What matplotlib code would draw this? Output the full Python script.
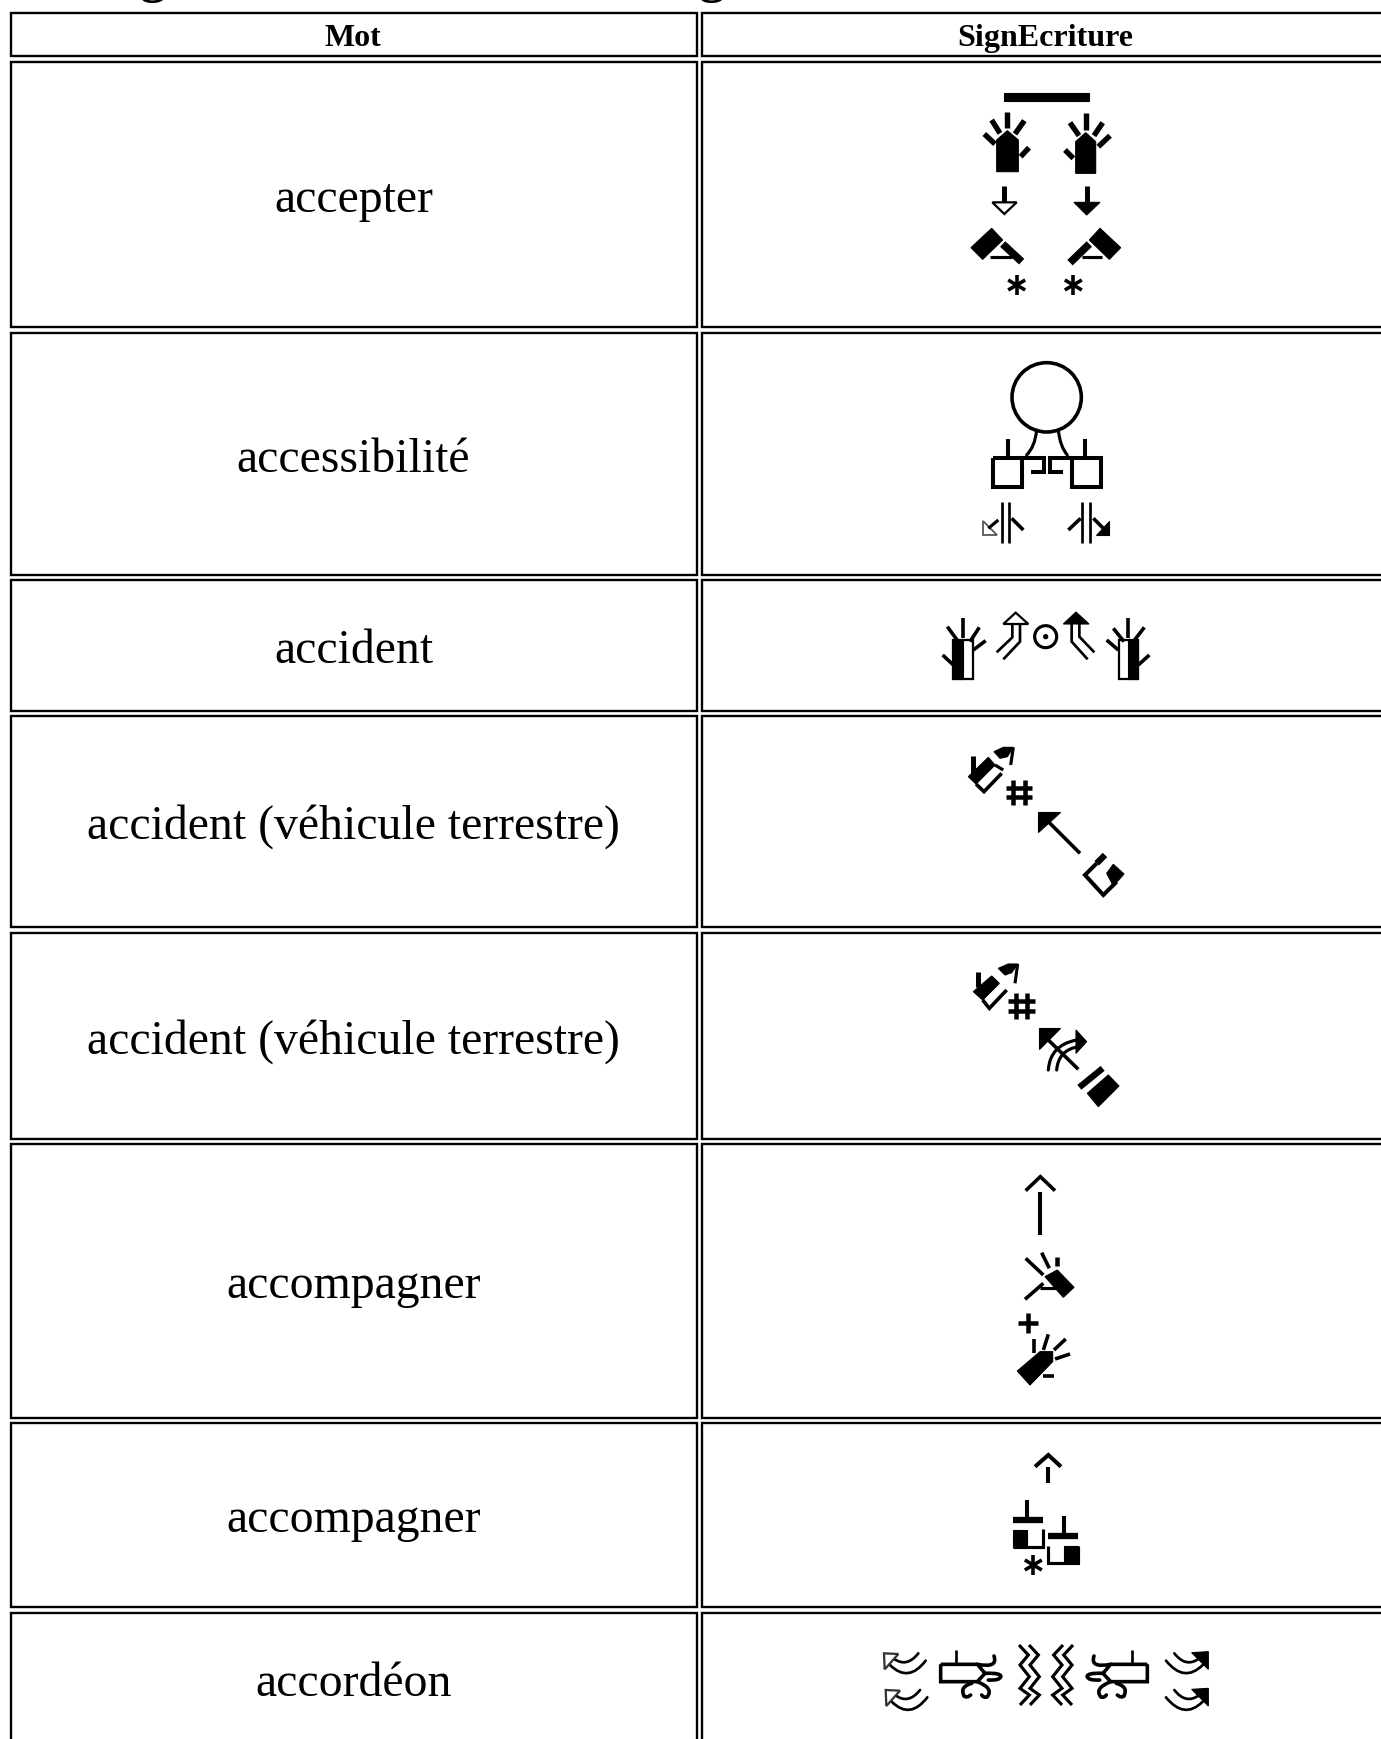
import matplotlib
matplotlib.use('Agg')
from matplotlib import pyplot as plt
from matplotlib.patches import Rectangle, Polygon, Circle, PathPatch
from matplotlib.path import Path

W, H = 1381, 1739

headers = ['Mot', 'SignEcriture']
words = ['accepter', 'accessibilité', 'accident', 'accident (véhicule terrestre)',
         'accident (véhicule terrestre)', 'accompagner', 'accompagner', 'accordéon']
row_tops = [62, 333, 580, 716, 933, 1144, 1423, 1613]
row_bottoms = [327, 575, 711, 927, 1139, 1418, 1607, 1745]
header_top, header_bottom = 13, 56
col_lefts = [11, 702]
col_rights = [697, 1400]

plt.rcParams['font.family'] = ['Liberation Serif', 'DejaVu Serif']
fig = plt.figure(figsize=(W / 100, H / 100), dpi=100)
ax = fig.add_axes([0, 0, 1, 1])
ax.set_xlim(0, W)
ax.set_ylim(H, 0)
ax.axis('off')

ox, oy = 0, 0
THICK = 1.35


def P(x, y):
    return ox + x / 3, oy + y / 3


def line(pts, lw=12):
    xs, ys = zip(*[P(*p) for p in pts])
    ax.plot(xs, ys, color='black', lw=THICK * lw / 3 * 0.72, solid_capstyle='butt', solid_joinstyle='miter')


def fill(pts):
    ax.add_patch(Polygon([P(*p) for p in pts], closed=True, fc='black', ec='black', lw=0.8))


def hollow(pts, lw=5, color='black'):
    ax.add_patch(Polygon([P(*p) for p in pts], closed=True, fc='white', ec=color, lw=THICK * lw / 3 * 0.72))


def curve(a, c, b, lw=7):
    verts = [P(*a), P(*c), P(*b)]
    path = Path(verts, [Path.MOVETO, Path.CURVE3, Path.CURVE3])
    ax.add_patch(PathPatch(path, fc='none', ec='black', lw=THICK * lw / 3 * 0.72, capstyle='round'))


def star(x, y, r=30):
    line([(x, y - r), (x, y + r)], 8)
    line([(x - r * .85, y - r * .5), (x + r * .85, y + r * .5)], 8)
    line([(x - r * .85, y + r * .5), (x + r * .85, y - r * .5)], 8)


def ring(x, y, r, lw=8):
    cx, cy = P(x, y)
    ax.add_patch(Circle((cx, cy), r / 3, fc='white', ec='black', lw=THICK * lw / 3 * 0.72))


def hash_mark(x, y):
    for dx in (-17, 17):
        line([(x + dx, y - 38), (x + dx, y + 38)], 10)
    for dy in (-14, 15):
        line([(x - 40, y + dy), (x + 40, y + dy)], 10)


# table cells
for col, head in enumerate(headers):
    ax.add_patch(Rectangle((col_lefts[col], header_top), col_rights[col] - col_lefts[col],
                           header_bottom - header_top, fc='white', ec='black', lw=1.7))
    ax.text((col_lefts[col] + min(col_rights[col], 1391)) / 2 - 1, (header_top + header_bottom) / 2 + 4, head,
            ha='center', va='center', fontsize=23, fontweight='bold')
for word, top, bottom in zip(words, row_tops, row_bottoms):
    for col in range(2):
        ax.add_patch(Rectangle((col_lefts[col], top), col_rights[col] - col_lefts[col], bottom - top,
                               fc='white', ec='black', lw=1.7))
    ax.text((col_lefts[0] + col_rights[0]) / 2 - 0.5, (top + bottom) / 2 + 5.5, word,
            ha='center', va='center', fontsize=34.4)

# clipped title above the table, only the descenders show
for x, s in [(153, 'g'), (712, 'g'), (895, ',')]:
    ax.text(x, -8, s, ha='center', va='baseline', fontsize=38, fontweight='bold', clip_on=True)

# accepter
ox, oy = 930, 70
fill([(223, 68), (478, 68), (478, 93), (223, 93)])
fill([(200, 305), (265, 305), (265, 210), (232, 182), (200, 210)])
line([(232, 125), (232, 175)]); line([(185, 150), (210, 190)]); line([(163, 192), (195, 222)])
line([(283, 152), (255, 192)]); line([(297, 233), (272, 260)])
fill([(437, 310), (497, 310), (497, 215), (467, 188), (437, 215)])
line([(467, 130), (467, 180)]); line([(420, 158), (447, 197)]); line([(518, 158), (492, 197)])
line([(540, 197), (505, 230)]); line([(405, 240), (430, 265)])
line([(223, 348), (223, 397)], 11); hollow([(187, 397), (260, 397), (223, 432)])
line([(470, 348), (470, 397)], 11); fill([(432, 397), (510, 397), (470, 435)])
fill([(123, 533), (185, 475), (218, 510), (158, 568)])
line([(180, 562), (245, 562)], 7); line([(218, 522), (275, 575)], 17)
fill([(510, 475), (572, 533), (538, 568), (478, 510)])
line([(455, 562), (515, 562)], 7); line([(478, 522), (420, 578)], 17)
star(260, 645); star(430, 645)

# accessibilite
ox, oy = 930, 350
ring(350, 142, 104)
curve((320, 240), (315, 290), (290, 315)); curve((385, 240), (390, 290), (412, 315))
line([(190, 325), (275, 325), (275, 410), (190, 410), (190, 325)], 9)
line([(425, 325), (512, 325), (512, 410), (425, 410), (425, 325)], 9)
line([(235, 268), (235, 325)], 9); line([(465, 268), (465, 325)], 9)
line([(275, 325), (342, 325), (342, 365), (303, 365)], 9)
line([(425, 325), (360, 325), (360, 365), (400, 365)], 9)
for x in (215, 238, 457, 481):
    line([(x, 455), (x, 580)], 6)
line([(205, 510), (175, 535)], 7); hollow([(158, 512), (158, 555), (200, 555)], 4, '#555555')
line([(245, 505), (280, 540)], 8)
line([(452, 505), (415, 540)], 8)
line([(490, 505), (520, 535)], 8); fill([(538, 512), (538, 555), (497, 555)])

# accident
ox, oy = 920, 600
line([(130, 55), (130, 115)], 8); line([(82, 80), (115, 125)], 8); line([(178, 82), (150, 125)], 8)
line([(197, 122), (160, 150)], 8); line([(68, 165), (100, 195)], 8)
hollow([(100, 120), (160, 120), (160, 237), (100, 237)])
fill([(100, 120), (130, 120), (130, 237), (100, 237)])
line([(277, 72), (277, 112), (230, 157)], 6); line([(300, 72), (300, 125), (250, 178)], 6)
hollow([(250, 72), (325, 72), (287, 38)])
ring(377, 110, 33, 7)
cx, cy = P(377, 110)
ax.add_patch(Circle((cx, cy), 8 / 3, fc='black', ec='none'))
line([(455, 72), (455, 125), (503, 178)], 6); line([(478, 72), (478, 110), (523, 157)], 6)
fill([(430, 72), (507, 72), (468, 36)])
line([(625, 55), (625, 115)], 8); line([(580, 85), (612, 125)], 8); line([(673, 82), (640, 125)], 8)
line([(560, 120), (595, 150)], 8); line([(688, 165), (655, 195)], 8)
hollow([(598, 120), (655, 120), (655, 237), (598, 237)])
fill([(625, 120), (655, 120), (655, 237), (625, 237)])

# accident (vehicule terrestre), first line
fill([(145, 530), (205, 472), (225, 495), (168, 552)])
line([(168, 552), (192, 575), (245, 520)], 8)
line([(158, 468), (158, 522)], 11)
fill([(222, 455), (250, 442), (280, 442), (262, 470), (240, 475)])
line([(280, 442), (272, 495)], 7)
line([(225, 495), (250, 510)], 7)
hash_mark(297, 577)
line([(480, 760), (385, 665)], 8)
fill([(355, 697), (355, 635), (420, 635)])
fill([(560, 820), (580, 793), (612, 822), (580, 858)])
line([(555, 765), (530, 790)], 14); line([(530, 790), (495, 825), (550, 885), (590, 845)], 9)

# accident (vehicule terrestre), second line
ox, oy = 950, 950
fill([(70, 125), (125, 78), (148, 100), (98, 150)])
line([(98, 150), (118, 175), (170, 120)], 8)
line([(85, 65), (85, 112)], 11)
fill([(145, 55), (175, 42), (203, 42), (185, 68), (165, 75)])
line([(203, 42), (195, 100)], 7)
hash_mark(215, 168)
line([(385, 358), (295, 270)], 8)
fill([(268, 298), (268, 235), (330, 235)])
curve((295, 360), (300, 285), (380, 270)); curve((320, 360), (325, 300), (385, 290))
fill([(378, 240), (410, 275), (378, 310)])
line([(388, 412), (458, 355)], 14)
fill([(412, 430), (475, 375), (507, 408), (445, 470)])

# accompagner, first line
ox, oy = 980, 1160
line([(181, 95), (181, 225)], 9); line([(137, 92), (181, 50), (225, 92)], 8)
fill([(195, 350), (232, 330), (282, 382), (250, 412)])
line([(135, 418), (190, 370)], 8); line([(180, 385), (250, 385)], 7)
line([(137, 295), (190, 345)], 8); line([(185, 278), (208, 325)], 8); line([(230, 290), (230, 318)], 10)
line([(115, 490), (175, 490)], 10); line([(145, 460), (145, 520)], 10)
fill([(112, 633), (180, 575), (218, 575), (218, 605), (150, 675)])
line([(162, 538), (162, 578)], 8); line([(205, 523), (190, 570)], 8); line([(257, 537), (222, 570)], 8)
line([(270, 582), (225, 597)], 8); line([(190, 648), (222, 648)], 8)

# accompagner, second line
ox, oy = 990, 1440
line([(175, 82), (175, 128)], 9); line([(135, 80), (175, 45), (213, 80)], 9)
line([(112, 180), (112, 240)], 9); line([(70, 240), (160, 240)], 14)
line([(160, 268), (160, 320), (70, 320)], 7); fill([(70, 270), (112, 270), (112, 320), (70, 320)])
line([(222, 228), (222, 288)], 9); line([(175, 288), (265, 288)], 14)
line([(175, 318), (175, 368), (265, 368), (265, 318)], 7); fill([(222, 318), (265, 318), (265, 368), (222, 368)])
star(130, 375)

# accordeon
ox, oy = 870, 1630
for dy, dx in [(0, 0), (110, 5)]:
    curve((70 + dx, 85 + dy), (110 + dx, 115 + dy), (145 + dx, 70 + dy), 6)
    curve((60 + dx, 105 + dy), (115 + dx, 160 + dy), (167 + dx, 92 + dy), 6)
    hollow([(42 + dx, 70 + dy), (85 + dx, 72 + dy), (44 + dx, 118 + dy)], 5, '#333333')
    curve((988, 85 + dy), (948, 115 + dy), (913, 70 + dy), 6)
    curve((998, 105 + dy), (943, 160 + dy), (888, 92 + dy), 6)
    fill([(1015, 65 + dy), (1015, 118 + dy), (965, 68 + dy)])
for m in (0, 1044):
    sx = 1 if m == 0 else -1
    line([(m + sx * 212, 103), (m + sx * 322, 103), (m + sx * 345, 130), (m + sx * 322, 155),
          (m + sx * 212, 155), (m + sx * 212, 103)], 8)
    line([(m + sx * 257, 60), (m + sx * 257, 103)], 6)
    curve((m + sx * 322, 103), (m + sx * 385, 115), (m + sx * 372, 78), 8)
    curve((m + sx * 345, 130), (m + sx * 395, 128), (m + sx * 392, 140), 8)
    curve((m + sx * 392, 140), (m + sx * 390, 152), (m + sx * 355, 150), 8)
    curve((m + sx * 305, 160), (m + sx * 268, 170), (m + sx * 282, 198), 8)
    curve((m + sx * 282, 198), (m + sx * 290, 205), (m + sx * 302, 195), 8)
    curve((m + sx * 322, 155), (m + sx * 372, 175), (m + sx * 352, 200), 8)
    curve((m + sx * 352, 200), (m + sx * 342, 205), (m + sx * 335, 195), 8)
zig_y = [45, 75, 105, 140, 175, 195, 225]
zig_left = [447, 475, 450, 478, 450, 478, 450]
for shift in (0, 30):
    line([(x + shift, y) for x, y in zip(zig_left, zig_y)], 7)
    line([(1056 - x - shift, y) for x, y in zip(zig_left, zig_y)], 7)

fig.savefig('out.png', dpi=100)
